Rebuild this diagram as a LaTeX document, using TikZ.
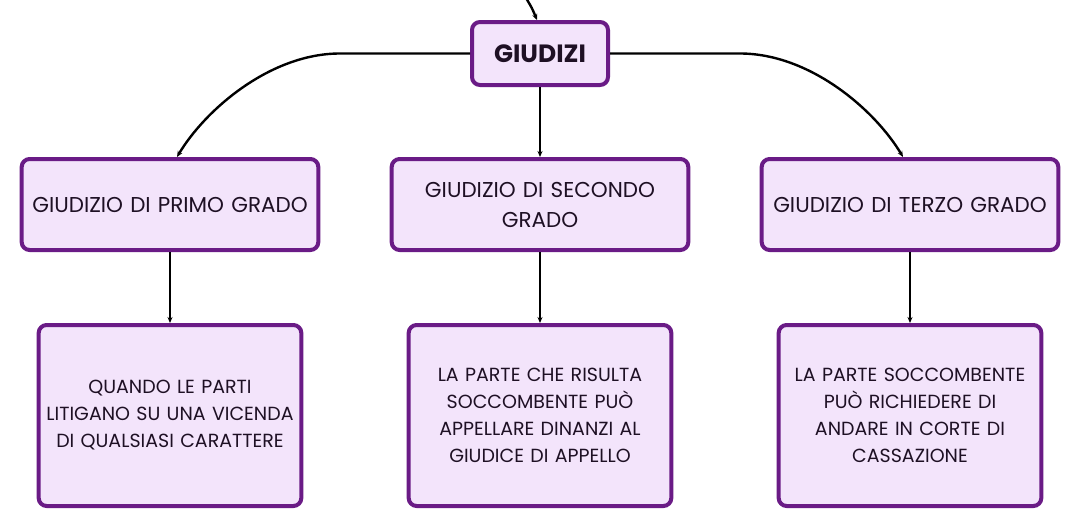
\documentclass[tikz,border=0pt]{standalone}
\usepackage{fontspec}
\setmainfont{Poppins}
\usetikzlibrary{arrows.meta}
\definecolor{boxline}{HTML}{6A1B86}
\definecolor{boxfill}{HTML}{F3E4FB}
\definecolor{txt}{HTML}{1E1024}
\tikzset{
  box/.style={draw=boxline, fill=boxfill, line width=4pt, rounded corners=8pt, align=center, text=txt},
  topbox/.style={box, minimum width=136pt, minimum height=63pt, font=\fontsize{25pt}{28pt}\selectfont\bfseries},
  midbox/.style={box, minimum width=296pt, minimum height=91pt, text width=290pt, font=\fontsize{21.5pt}{30pt}\selectfont},
  lowbox/.style={box, minimum width=260pt, minimum height=181pt, text width=256pt, font=\fontsize{19pt}{27pt}\selectfont},
  conn/.style={draw=black, line width=2.4pt, -{Stealth[length=6pt,width=5pt]}}
}
\begin{document}
\begin{tikzpicture}[x=1pt,y=-1pt]
\useasboundingbox (0,0) rectangle (1080,530);
\node[topbox] (g) at (540,53.5) {GIUDIZI};
\node[midbox] (a) at (170,204.5) {GIUDIZIO DI PRIMO GRADO};
\node[midbox] (b) at (540,204.5) {GIUDIZIO DI SECONDO\\GRADO};
\node[midbox] (c) at (910,204.5) {GIUDIZIO DI TERZO GRADO};
\node[lowbox] (a2) at (170,415.5) {QUANDO LE PARTI\\LITIGANO SU UNA VICENDA\\DI QUALSIASI CARATTERE};
\node[lowbox] (b2) at (540,415.5) {LA PARTE CHE RISULTA\\SOCCOMBENTE PUÒ\\APPELLARE DINANZI AL\\GIUDICE DI APPELLO};
\node[lowbox] (c2) at (910,415.5) {LA PARTE SOCCOMBENTE\\PUÒ RICHIEDERE DI\\ANDARE IN CORTE DI\\CASSAZIONE};
\coordinate (in) at (526,-2);
\draw[conn] (in) .. controls (532,8) .. ([xshift=-3pt]g.north);
\draw[conn] (g.west) -- ++(-130,0) .. controls +(-70,0) and +(28,-47) .. ([xshift=7pt]a.north);
\draw[conn] (g.east) -- ++(130,0) .. controls +(70,0) and +(-28,-47) .. ([xshift=-7pt]c.north);
\draw[conn] (g.south) -- (b.north);
\draw[conn] (a.south) -- (a2.north);
\draw[conn] (b.south) -- (b2.north);
\draw[conn] (c.south) -- (c2.north);
\end{tikzpicture}
\end{document}
